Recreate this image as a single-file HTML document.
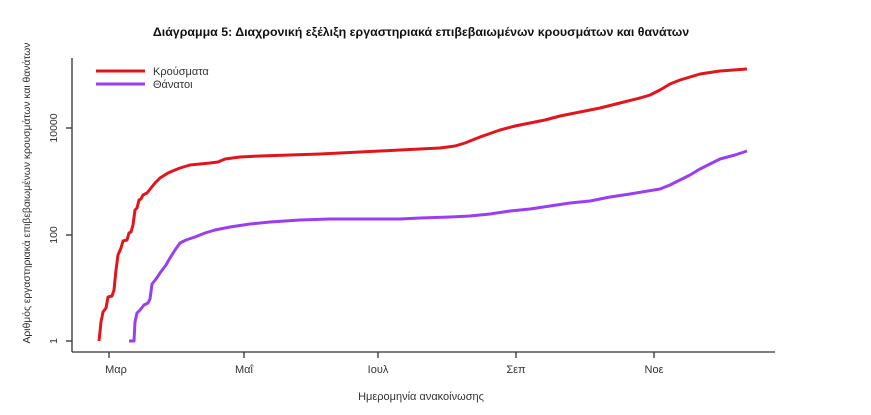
<!DOCTYPE html>
<html><head><meta charset="utf-8"><style>body{margin:0;background:#fff}</style></head><body>
<svg width="871" height="410" viewBox="0 0 871 410" xmlns="http://www.w3.org/2000/svg" font-family="Liberation Sans, sans-serif">
<text x="421" y="36" text-anchor="middle" font-size="12.4" font-weight="bold" fill="#111">Διάγραμμα 5: Διαχρονική εξέλιξη εργαστηριακά επιβεβαιωμένων κρουσμάτων και θανάτων</text>
<g stroke="#333" stroke-width="1.3" fill="none">
<line x1="72" y1="58" x2="72" y2="352"/>
<line x1="72" y1="352" x2="775" y2="352"/>
<line x1="66" y1="341" x2="72" y2="341"/><line x1="66" y1="235" x2="72" y2="235"/><line x1="66" y1="128" x2="72" y2="128"/>
<line x1="109" y1="352" x2="109" y2="358"/><line x1="244" y1="352" x2="244" y2="358"/><line x1="378" y1="352" x2="378" y2="358"/><line x1="516" y1="352" x2="516" y2="358"/><line x1="654" y1="352" x2="654" y2="358"/>
</g>
<g font-size="11" fill="#333" text-anchor="middle">
<text x="116" y="373">Μαρ</text><text x="244" y="373">Μαΐ</text><text x="378" y="373">Ιουλ</text><text x="516" y="373">Σεπ</text><text x="654" y="373">Νοε</text>
<text x="421" y="400">Ημερομηνία ανακοίνωσης</text>
<text transform="translate(57,341) rotate(-90)" font-size="10.5">1</text>
<text transform="translate(57,235) rotate(-90)" font-size="10.5">100</text>
<text transform="translate(57,128) rotate(-90)" font-size="10.5">10000</text>
<text transform="translate(30,193) rotate(-90)" font-size="10.3">Αριθμός εργαστηριακά επιβεβαιωμένων κρουσμάτων και θανάτων</text>
</g>
<polyline fill="none" stroke="#e3151c" stroke-width="3" stroke-linejoin="round" points="99,341 101,322 103,312 106,308 108,297 112,296 114,290 116,270 118,255 121,248 123,241 127,240 129,233 131,232 133,225 135,210 137,208 139,200 141,199 143,195 147,193 151,188 155,183 160,178 168,173 175,170 180,168 190,165 200,164 210,163 218,162 225,159 240,157 260,156 290,155 320,154 340,153 360,152 380,151 400,150 420,149 440,148 455,146 465,143 480,137 500,130 515,126 530,123 545,120 560,116 580,112 600,108 620,103 640,98 650,95 660,90 670,84 680,80 690,77 700,74 720,71 747,69"/>
<polyline fill="none" stroke="#9b3ef0" stroke-width="3" stroke-linejoin="round" points="129,341 134,341 135,322 137,313 140,310 144,305 148,303 150,299 152,284 156,279 160,273 166,265 170,258 175,250 180,243 186,240 195,237 205,233 215,230 230,227 250,224 270,222 300,220 330,219 360,219 400,219 420,218 450,217 470,216 490,214 510,211 530,209 550,206 570,203 590,201 610,197 630,194 660,189 670,185 680,180 690,175 700,169 710,164 720,159 735,155 747,151"/>
<line x1="96" y1="71" x2="145" y2="71" stroke="#e3151c" stroke-width="3"/>
<line x1="96" y1="84" x2="145" y2="84" stroke="#9b3ef0" stroke-width="3"/>
<text x="153" y="75" font-size="11" fill="#333">Κρούσματα</text>
<text x="153" y="88" font-size="11" fill="#333">Θάνατοι</text>
</svg>
</body></html>
